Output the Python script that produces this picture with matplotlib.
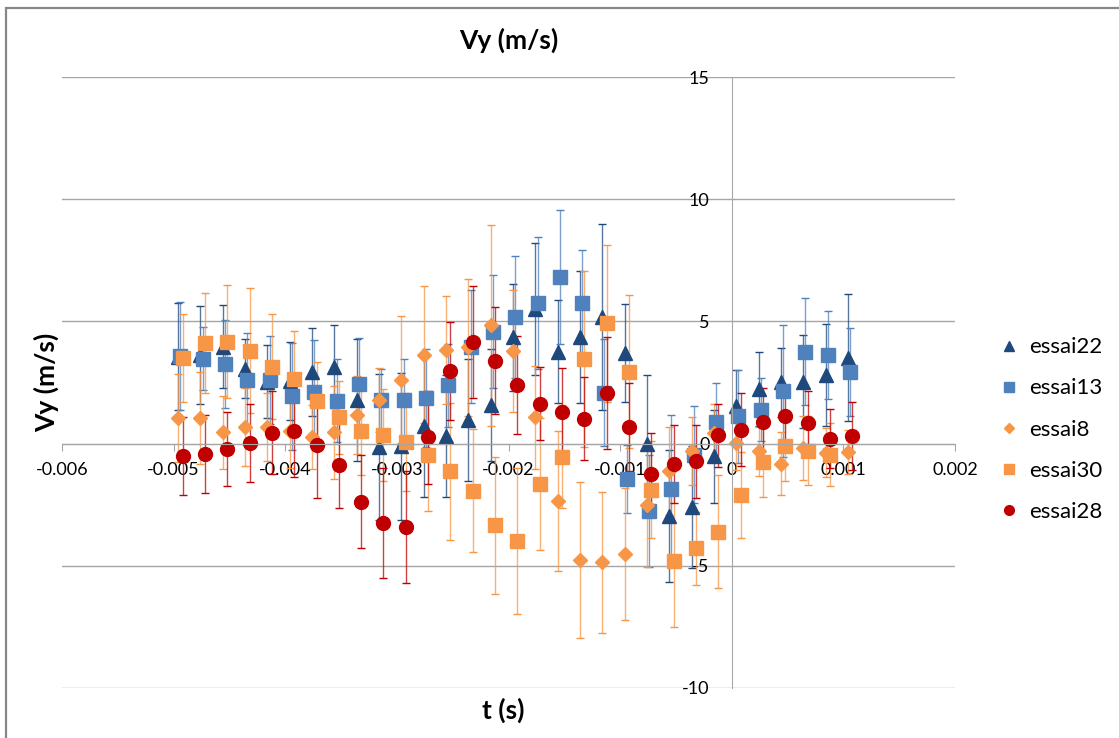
import numpy as np
import matplotlib
matplotlib.use('Agg')
import matplotlib.pyplot as plt
from matplotlib.lines import Line2D
from matplotlib.patches import Rectangle

plt.rcParams['font.family'] = ['Lato', 'DejaVu Sans']
plt.rcParams['axes.unicode_minus'] = False

# time values (s)
t_a = [-0.00496, -0.00476, -0.00456, -0.00436, -0.00416, -0.00396, -0.00376, -0.00356,
       -0.00336, -0.00316, -0.00296, -0.00276, -0.00256, -0.00236, -0.00216, -0.00196,
       -0.00176, -0.00156, -0.00136, -0.00116, -0.00096, -0.00076, -0.00056, -0.00036,
       -0.00016, 0.00004, 0.00024, 0.00044, 0.00064, 0.00084, 0.00104]
t_c = [-0.00494, -0.00474, -0.00454, -0.00434, -0.00414, -0.00394, -0.00374, -0.00354,
       -0.00334, -0.00314, -0.00294, -0.00274, -0.00254, -0.00234, -0.00214, -0.00194,
       -0.00174, -0.00154, -0.00134, -0.00114, -0.00094, -0.00074, -0.00054, -0.00034,
       -0.00014, 0.00006, 0.00026, 0.00046, 0.00066, 0.00086, 0.00106]
t_b = [-0.00492, -0.00472, -0.00452, -0.00432, -0.00412, -0.00392, -0.00372, -0.00352,
       -0.00332, -0.00312, -0.00292, -0.00272, -0.00252, -0.00232, -0.00212, -0.00192,
       -0.00172, -0.00152, -0.00132, -0.00112, -0.00092, -0.00072, -0.00052, -0.00032,
       -0.00012, 0.00008, 0.00028, 0.00048, 0.00068, 0.00088, 0.00108]

# Vy (m/s)
vy22 = [3.56, 3.63, 3.97, 3.06, 2.54, 2.57, 2.91, 3.15, 1.79, -0.14, -0.11, 0.71, 0.30, 0.98,
        1.59, 4.35, 5.49, 3.76, 4.37, 5.19, 3.72, 0.0, -2.96, -2.58, -0.52, 1.52, 2.23, 2.50,
        2.54, 2.81, 3.52]
err22 = [2.2, 2.0, 1.7, 1.2, 1.5, 1.6, 1.8, 1.7, 2.5, 3.0, 3.0, 2.9, 2.5, 2.5, 2.3, 2.2, 2.7,
         2.1, 2.7, 3.8, 2.0, 2.8, 2.7, 2.5, 1.9, 1.5, 1.5, 1.4, 1.9, 2.1, 2.6]

vy13 = [3.59, 3.48, 3.26, 2.61, 2.61, 1.93, 2.13, 1.75, 2.43, 1.77, 1.77, 1.86, 2.38, 3.97,
        4.58, 5.19, 5.76, 6.82, 5.76, 2.09, -1.44, -2.76, -1.85, -0.45, 0.88, 1.11, 1.39, 2.17,
        3.76, 3.63, 2.92]
err13 = [2.2, 1.3, 1.8, 1.9, 1.8, 2.2, 2.1, 1.7, 1.9, 1.3, 1.7, 2.0, 1.7, 2.3, 2.3, 2.5, 2.7,
         2.75, 2.15, 2.2, 1.4, 2.3, 3.0, 2.0, 1.6, 1.9, 1.3, 2.7, 2.2, 1.8, 1.8]

vy8 = [1.05, 1.05, 0.46, 0.67, 0.67, 0.50, 0.26, 0.46, 1.18, 1.79, 2.61, 3.63, 3.83, 3.94,
       4.84, 3.80, 1.07, -2.35, -4.77, -4.86, -4.52, -2.53, -1.13, -0.31, 0.44, 0.03, -0.31,
       -0.82, -0.18, -0.38, -0.34]
err8 = [1.8, 1.9, 1.5, 1.6, 1.4, 1.5, 1.3, 1.9, 1.6, 1.3, 2.6, 2.8, 2.2, 2.8, 4.1, 2.5, 2.1,
        2.85, 3.2, 2.9, 2.7, 2.5, 1.8, 1.4, 1.2, 1.1, 1.0, 1.3, 1.3, 1.0, 0.9]

vy30 = [3.52, 4.13, 4.17, 3.80, 3.15, 2.66, 1.73, 1.07, 0.50, 0.35, 0.05, -0.45, -1.13, -1.92,
        -3.34, -3.98, -1.67, -0.54, 3.45, 4.92, 2.95, -1.88, -4.80, -4.29, -3.60, -2.11, -0.75,
        -0.11, -0.29, -0.45]
err30 = [1.8, 2.05, 2.3, 2.55, 2.15, 1.95, 1.6, 1.5, 1.8, 1.9, 2.0, 2.3, 2.8, 2.5, 2.8, 3.0,
         2.7, 2.1, 3.6, 3.2, 3.15, 2.0, 2.7, 1.5, 2.3, 1.75, 1.45, 1.4, 1.4, 1.3]

vy28 = [-0.52, -0.41, -0.22, 0.03, 0.44, 0.53, -0.04, -0.88, -2.38, -3.26, -3.41, 0.26, 2.98,
        4.15, 3.40, 2.41, 1.63, 1.28, 1.01, 2.07, 0.69, -1.26, -0.83, -0.72, 0.34, 0.57, 0.88,
        1.11, 0.84, 0.20, 0.30]
err28 = [1.6, 1.6, 1.5, 1.6, 1.7, 1.9, 2.2, 1.75, 1.9, 2.25, 2.3, 1.9, 2.0, 2.3, 2.2, 2.0, 1.5,
         1.8, 1.7, 2.3, 1.8, 1.7, 1.6, 1.5, 1.3, 1.5, 1.4, 1.1, 1.3, 1.2, 1.4]

x_ticks = [-0.006, -0.005, -0.004, -0.003, -0.002, -0.001, 0, 0.001, 0.002]
x_labels = ['-0.006', '-0.005', '-0.004', '-0.003', '-0.002', '-0.001', '0', '0.001', '0.002']
y_ticks = [-10, -5, 0, 5, 10, 15]
y_labels = ['-10', '-5', '0', '5', '10', '15']

series = [
    ('essai22', t_a, vy22, err22, '^', '#1F497D', 10.5),
    ('essai13', t_c, vy13, err13, 's', '#4F81BD', 9.5),
    ('essai8', t_a, vy8, err8, 'D', '#F79646', 7.5),
    ('essai30', t_b, vy30, err30, 's', '#F79646', 9.5),
    ('essai28', t_b, vy28, err28, 'o', '#C00000', 10),
]

fig = plt.figure(figsize=(11.19, 7.38), dpi=100)
ax = fig.add_axes([62 / 1119, 1 - 688 / 738, (955 - 62) / 1119, (688 - 77) / 738])

handles = []
for name, t, v, e, mk, col, ms in series:
    ax.errorbar(t[:len(v)], v, yerr=e, fmt=mk, color=col, ms=ms, mec=col, ecolor=col,
                elinewidth=1, capsize=3, capthick=1)
    handles.append(Line2D([], [], ls='none', marker=mk, color=col,
                          ms=ms * 0.7, mec=col, label=name))
# lighten error bars a bit like Excel
for coll in ax.collections:
    coll.set_alpha(0.75)

ax.set_xlim(-0.006, 0.002)
ax.set_ylim(-10, 15)
ax.set_xticks(x_ticks)
ax.set_xticklabels(x_labels)
ax.set_yticks(y_ticks)
ax.set_yticklabels(y_labels)
ax.yaxis.grid(True, color='#A6A6A6', lw=1)
ax.set_axisbelow(True)

for s in ['top', 'right']:
    ax.spines[s].set_visible(False)
ax.spines['left'].set_position(('data', 0))
ax.spines['bottom'].set_position(('data', 0))
ax.spines['left'].set_color('#A6A6A6')
ax.spines['bottom'].set_color('#A6A6A6')
ax.tick_params(axis='x', direction='out', length=5, color='#A6A6A6',
               labelsize=13, pad=8)
ax.tick_params(axis='y', length=0, labelsize=13, pad=16)

fig.text(0.5 * (62 + 955) / 1119, 1 - 40 / 738, 'Vy (m/s)', ha='center', va='center',
         fontsize=19, fontweight='bold')
fig.text(46 / 1119, 1 - 382 / 738, 'Vy (m/s)', ha='center', va='center', rotation=90,
         fontsize=19, fontweight='bold')
fig.text(503 / 1119, 1 - 710 / 738, 't (s)', ha='center', va='center',
         fontsize=19, fontweight='bold')

fig.legend(handles=handles, loc='center left', bbox_to_anchor=(0.872, 0.418),
           frameon=False, fontsize=16, labelspacing=0.95, handletextpad=0.3,
           handlelength=1.2)

fig.patches.append(Rectangle((6 / 1119, -0.1), 2, 1.1 - 8 / 738, transform=fig.transFigure,
                             fill=False, ec='#878787', lw=1.6, figure=fig))

fig.savefig('out.png', dpi=100)
